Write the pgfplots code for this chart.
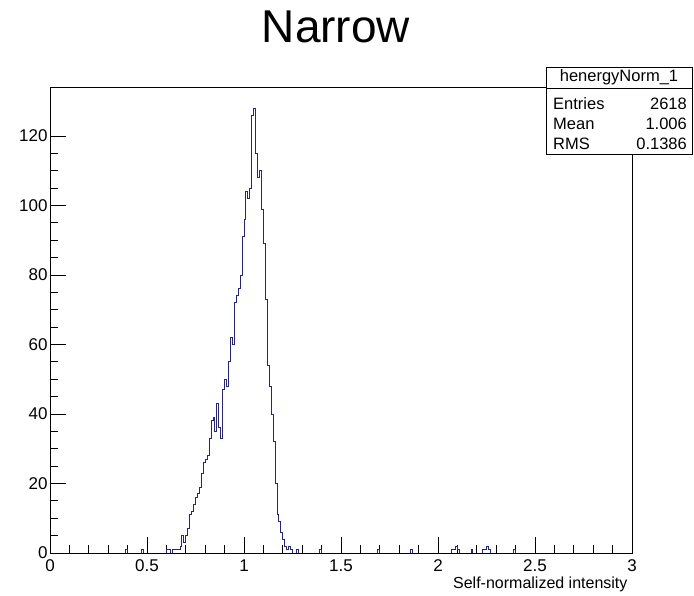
\documentclass[border=0pt]{standalone}
\usepackage{fontspec}
\setmainfont{Liberation Sans}
\usepackage{pgfplots}
\pgfplotsset{compat=1.18}
\usepackage{pgfplotstable}
\definecolor{histblue}{RGB}{35,35,150}

\pgfplotstableread{
x y
0.00 0
0.39 1
0.40 0
0.47 1
0.48 0
0.60 1
0.61 1
0.62 0
0.63 1
0.64 1
0.65 1
0.66 1
0.67 2
0.68 5
0.69 3
0.70 5
0.71 7
0.72 11
0.73 12
0.74 14
0.75 16
0.76 17
0.77 19
0.78 23
0.79 26
0.80 27
0.81 28
0.82 33
0.83 38
0.84 39
0.85 35
0.86 43
0.87 36
0.88 33
0.89 47
0.90 50
0.91 48
0.92 55
0.93 62
0.94 60
0.95 72
0.96 74
0.97 76
0.98 80
0.99 91
1.00 96
1.01 104
1.02 102
1.03 105
1.04 126
1.05 128
1.06 115
1.07 108
1.08 110
1.09 99
1.10 89
1.11 73
1.12 54
1.13 48
1.14 40
1.15 32
1.16 20
1.17 11
1.18 9
1.19 6
1.20 4
1.21 2
1.22 1
1.23 2
1.24 1
1.25 0
1.27 1
1.28 0
1.39 1
1.40 0
1.69 1
1.70 0
1.86 1
1.87 0
2.07 1
2.08 1
2.09 2
2.10 1
2.11 0
2.17 1
2.18 0
2.23 1
2.24 1
2.25 2
2.26 1
2.27 0
2.39 1
2.40 0
3.00 0
}\histdata

\begin{document}
\begin{tikzpicture}[x=1pt,y=1pt]
\useasboundingbox (0,0) rectangle (694,596);
\begin{axis}[
  at={(50pt,43pt)}, anchor=south west,
  scale only axis, width=582pt, height=466pt,
  xmin=0, xmax=3, ymin=0, ymax=134.1,
  xtick={0,0.5,1,1.5,2,2.5,3}, ytick={0,20,40,60,80,100,120},
  minor x tick num=4, minor y tick num=3,
  tick pos=left, tick align=inside,
  major tick length=16pt, minor tick length=8pt,
  ticklabel style={font=\fontsize{17}{20}\selectfont},
  /pgf/number format/assume math mode=true,
  xticklabel style={yshift=-3pt},
  yticklabel style={xshift=1pt},
  axis line style={line width=0.8pt},
  tick style={line width=0.8pt, black},
]
\addplot[const plot, histblue, line width=0.9pt] table[x=x,y=y]{\histdata};
\end{axis}
\node[anchor=base, font=\fontsize{46}{50}\selectfont] at (336,553) {Narrow};
\node[anchor=base east, font=\fontsize{16}{19}\selectfont] at (631,7) {Self-normalized intensity};
\draw[fill=white, line width=0.8pt] (546,442) rectangle (692,529);
\draw[line width=0.8pt] (546,508) -- (692,508);
\begin{scope}[every node/.style={font=\fontsize{16.5}{19}\selectfont, inner sep=0pt}]
\node[anchor=base] at (619,514) {henergyNorm\_1};
\node[anchor=base west] at (553,486) {Entries};
\node[anchor=base east] at (687,486) {2618};
\node[anchor=base west] at (553,466) {Mean};
\node[anchor=base east] at (687,466) {1.006};
\node[anchor=base west] at (553,446) {RMS};
\node[anchor=base east] at (687,446) {0.1386};
\end{scope}
\end{tikzpicture}
\end{document}
